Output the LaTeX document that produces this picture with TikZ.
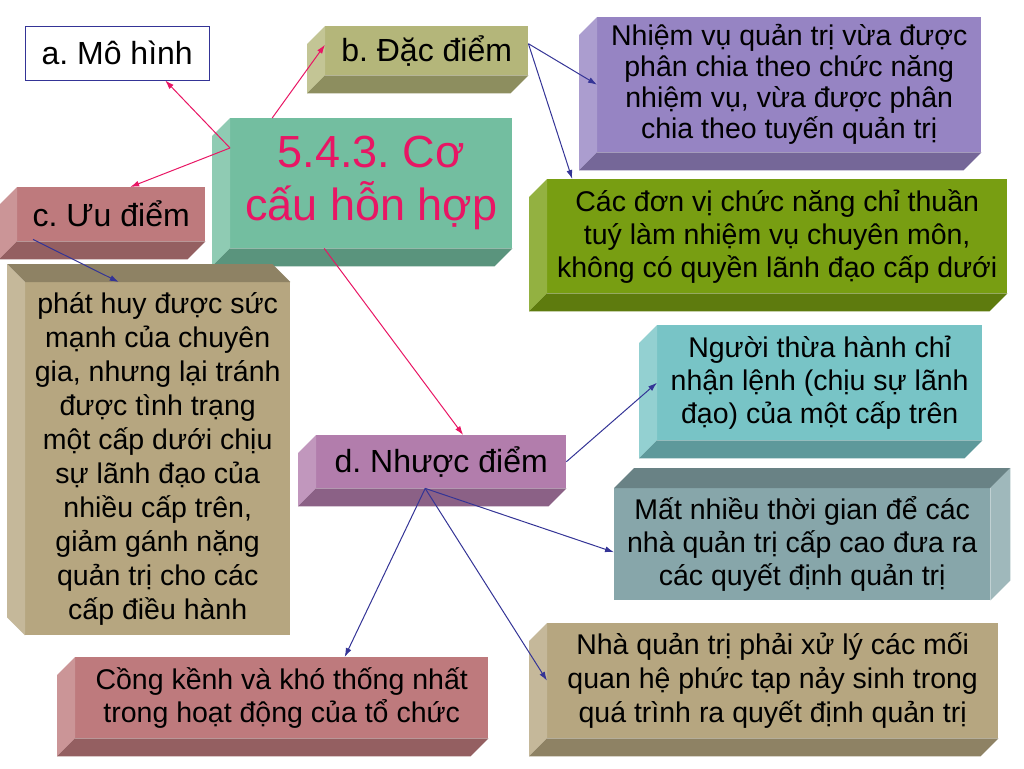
\documentclass[tikz,border=0pt]{standalone}
\usepackage{fontspec}
\setmainfont{Liberation Sans}
\frenchspacing
\usetikzlibrary{arrows.meta}
\definecolor{hotpink}{RGB}{232,22,100}
\definecolor{navy}{RGB}{52,52,150}
\definecolor{khaki}{RGB}{180,182,122}
\definecolor{teal}{RGB}{115,190,160}
\definecolor{rose}{RGB}{190,122,125}
\definecolor{tan}{RGB}{182,166,128}
\definecolor{mauve}{RGB}{178,125,172}
\definecolor{lavender}{RGB}{150,132,195}
\definecolor{olive}{RGB}{120,158,18}
\definecolor{cyan}{RGB}{120,196,198}
\definecolor{slate}{RGB}{135,166,170}
\tikzset{
  face/.style={inner sep=0pt, align=center, anchor=north west, font=\fontsize{28.5}{33}\selectfont},
  title/.style={face, font=\fontsize{32}{38}\selectfont},
  pinkline/.style={draw=hotpink, line width=1pt, ->, >={Latex[length=9pt,width=6pt]}},
  blueline/.style={draw=navy, line width=1pt, ->, >={Latex[length=9pt,width=6pt]}}
}
\begin{document}
\begin{tikzpicture}[x=1pt,y=-1pt]
\useasboundingbox (0,0) rectangle (1024,768);
% front faces
\node[title, draw=navy, fill=white, minimum width=184, minimum height=54] (mohinh) at (25,26) {a. Mô hình};
\node[title, fill=khaki, minimum width=203, minimum height=49] (dac) at (325,26) {b. Đặc điểm};
\node[face, fill=teal, text=hotpink, minimum width=282, minimum height=130, font=\fontsize{45}{53}\selectfont] (main) at (230,118) {5.4.3. Cơ\\cấu hỗn hợp};
\node[title, fill=rose, minimum width=188, minimum height=54] (uu) at (17,187) {c. Ưu điểm};
\node[face, fill=tan, minimum width=265, minimum height=353, font=\fontsize{28.5}{34}\selectfont] (phat) at (25,282) {phát huy được sức\\mạnh của chuyên\\gia, nhưng lại tránh\\được tình trạng\\một cấp dưới chịu\\sự lãnh đạo của\\nhiều cấp trên,\\giảm gánh nặng\\quản trị cho các\\cấp điều hành};
\node[title, fill=mauve, minimum width=250, minimum height=53] (nhuoc) at (316,435) {d. Nhược điểm};
\node[face, fill=lavender, minimum width=384, minimum height=135, font=\fontsize{28.5}{31}\selectfont] (nv) at (597,17) {Nhiệm vụ quản trị vừa được\\phân chia theo chức năng\\nhiệm vụ, vừa được phân\\chia theo tuyến quản trị};
\node[face, fill=olive, minimum width=460, minimum height=114] (dv) at (547,179) {Các đơn vị chức năng chỉ thuần\\tuý làm nhiệm vụ chuyên môn,\\không có quyền lãnh đạo cấp dưới};
\node[face, fill=cyan, minimum width=325, minimum height=115] (ng) at (657,325) {Người thừa hành chỉ\\nhận lệnh (chịu sự lãnh\\đạo) của một cấp trên};
\node[face, fill=slate, minimum width=376, minimum height=112] (mat) at (614,488) {Mất nhiều thời gian để các\\nhà quản trị cấp cao đưa ra\\các quyết định quản trị};
\node[face, fill=tan, minimum width=451, minimum height=115, font=\fontsize{28.5}{34}\selectfont] (nha) at (547,623) {Nhà quản trị phải xử lý các mối\\quan hệ phức tạp nảy sinh trong\\quá trình ra quyết định quản trị};
\node[face, fill=rose, minimum width=413, minimum height=81] (cong) at (75,657) {Cồng kềnh và khó thống nhất\\trong hoạt động của tổ chức};
% side faces
\foreach \n/\c in {dac/khaki, main/teal, uu/rose, nhuoc/mauve, nv/lavender, dv/olive, ng/cyan, nha/tan, cong/rose}{
  \fill[\c!80!white] (\n.north west) -- (\n.south west) -- ++(-18,18) -- ([shift={(-18,18)}]\n.north west) -- cycle;
  \fill[\c!78!black] (\n.south west) -- (\n.south east) -- ++(-18,18) -- ([shift={(-18,18)}]\n.south west) -- cycle;
}
\fill[tan!78!black] (phat.north west) -- (phat.north east) -- ++(-18,-18) -- ([shift={(-18,-18)}]phat.north west) -- cycle;
\fill[tan!80!white] (phat.north west) -- (phat.south west) -- ++(-18,-18) -- ([shift={(-18,-18)}]phat.north west) -- cycle;
\fill[slate!78!black] (mat.north west) -- (mat.north east) -- ++(20,-20) -- ([shift={(20,-20)}]mat.north west) -- cycle;
\fill[slate!80!white] (mat.north east) -- (mat.south east) -- ++(20,-20) -- ([shift={(20,-20)}]mat.north east) -- cycle;
% connectors
\draw[pinkline] (main.166) -- ([xshift=48pt]mohinh.south);
\draw[pinkline] (main.166) -- ([xshift=19pt]uu.north);
\draw[pinkline] ([xshift=-99pt]main.north) -- ([yshift=6pt]dac.west);
\draw[pinkline] ([xshift=-47pt]main.south) -- ([xshift=22pt]nhuoc.north);
\draw[blueline] ([yshift=7pt]dac.east) -- (nv.west);
\draw[blueline] ([yshift=7pt]dac.east) -- ([xshift=-205pt]dv.north);
\draw[blueline] ([xshift=16pt,yshift=2pt]uu.south west) -- ([xshift=-39pt]phat.north);
\draw[blueline] (nhuoc.east) -- (ng.west);
\draw[blueline] ([xshift=-16pt]nhuoc.south) -- ([yshift=-8pt]mat.west);
\draw[blueline] ([xshift=-16pt]nhuoc.south) -- (nha.west);
\draw[blueline] ([xshift=-16pt]nhuoc.south) -- ([xshift=63pt]cong.north);
\end{tikzpicture}
\end{document}
